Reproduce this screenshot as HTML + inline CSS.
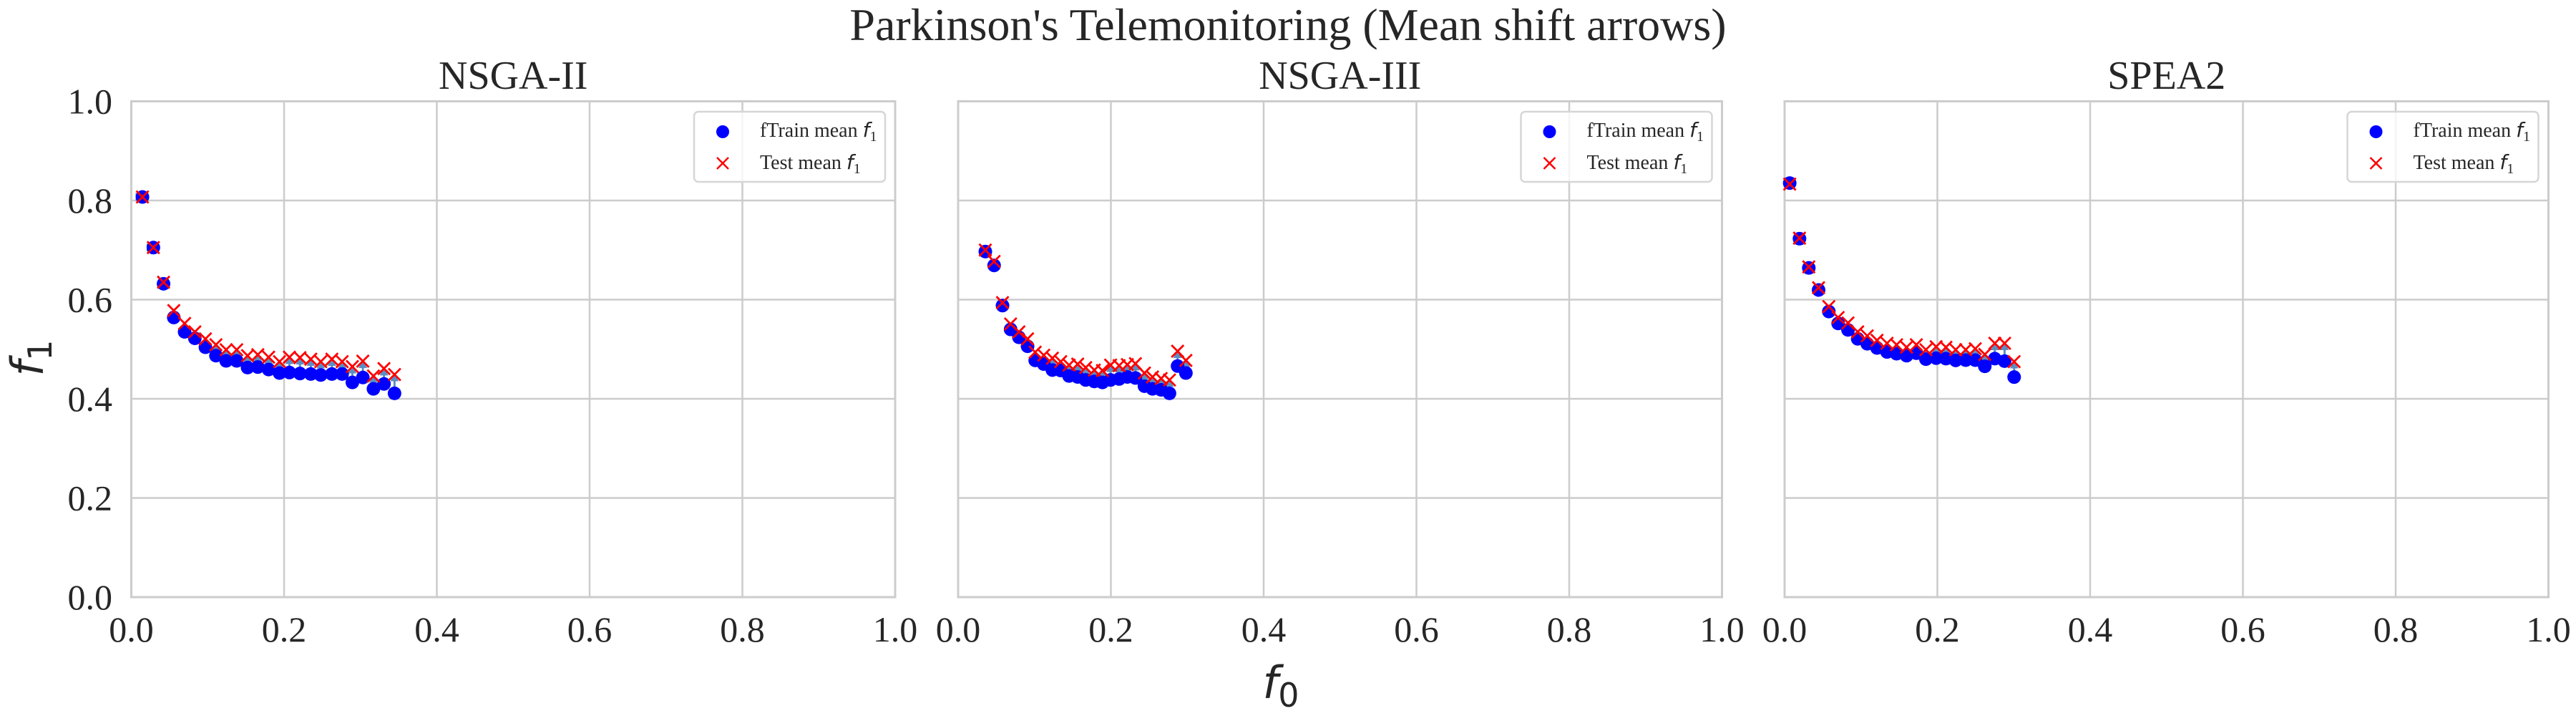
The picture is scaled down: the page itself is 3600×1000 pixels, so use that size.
<!DOCTYPE html>
<html><head><meta charset="utf-8"><style>
html,body{margin:0;padding:0;background:#fff;}
svg{display:block;}
text{font-family:"Liberation Serif",serif;fill:#262626;}
.math{font-family:"DejaVu Sans",sans-serif;font-style:italic;}
</style></head><body>
<svg id="fig" width="3600" height="1000" viewBox="0 0 3600 1000" xmlns="http://www.w3.org/2000/svg">
<defs>
<marker id="ah" viewBox="0 0 10 10" refX="8" refY="5" markerWidth="4" markerHeight="4" orient="auto"><path d="M0,0 L10,5 L0,10 z" fill="#5b8fc4"/></marker>
</defs>
<text x="1800" y="56" font-size="64" text-anchor="middle">Parkinson's Telemonitoring (Mean shift arrows)</text>
<g id="panels"></g>
<text x="1790" y="975" font-size="62" class="math" text-anchor="middle">f<tspan font-style="normal" font-size="46" dy="12">0</tspan></text>
<text transform="translate(60,500) rotate(-90)" font-size="62" class="math" text-anchor="middle">f<tspan font-style="normal" font-size="46" dy="12">1</tspan></text>
</svg>
<script>
const panelTitles = ["NSGA-II", "NSGA-III", "SPEA2"];
const ticks = [0.0, 0.2, 0.4, 0.6, 0.8, 1.0];
const tickLabels = ["0.0", "0.2", "0.4", "0.6", "0.8", "1.0"];

const nsga2X = [0.0146,0.0289,0.0422,0.0556,0.0698,0.0832,0.0970,0.1108,0.1242,0.1380,0.1522,0.1656,0.1798,0.1940,0.2070,0.2208,0.2350,0.2480,0.2626,0.2760,0.2894,0.3031,0.3170,0.3308,0.3446];
const nsga2Train = [0.807,0.705,0.632,0.564,0.535,0.522,0.504,0.487,0.4765,0.4765,0.463,0.464,0.459,0.452,0.453,0.451,0.450,0.448,0.450,0.450,0.433,0.443,0.420,0.430,0.411];
const nsga2Test = [0.807,0.705,0.635,0.578,0.552,0.535,0.521,0.509,0.499,0.499,0.487,0.489,0.484,0.475,0.484,0.483,0.480,0.475,0.480,0.475,0.465,0.476,0.446,0.461,0.449];

const nsga3X = [0.0356,0.0471,0.0581,0.0687,0.0796,0.0909,0.1009,0.1121,0.1234,0.1343,0.1452,0.1565,0.1670,0.1783,0.1889,0.1996,0.2108,0.2215,0.2321,0.2439,0.2545,0.2658,0.2767,0.2873,0.2982];
const nsga3Train = [0.697,0.669,0.588,0.540,0.524,0.506,0.4775,0.470,0.458,0.457,0.446,0.444,0.438,0.435,0.433,0.438,0.440,0.444,0.442,0.4255,0.420,0.418,0.411,0.466,0.452];
const nsga3Test = [0.700,0.677,0.594,0.551,0.535,0.521,0.494,0.488,0.482,0.475,0.468,0.470,0.463,0.458,0.457,0.468,0.467,0.469,0.471,0.452,0.444,0.441,0.438,0.496,0.4775];

const speaX = [0.0067,0.0195,0.0317,0.0445,0.0579,0.0701,0.0830,0.0957,0.1082,0.1210,0.1341,0.1466,0.1597,0.1725,0.1850,0.1984,0.2112,0.2240,0.2371,0.2496,0.2621,0.2752,0.2880,0.3005];
const speaTrain = [0.835,0.723,0.664,0.6195,0.576,0.552,0.539,0.521,0.511,0.5025,0.4945,0.491,0.487,0.492,0.480,0.482,0.481,0.4775,0.478,0.478,0.4655,0.481,0.476,0.4438];
const speaTest = [0.833,0.724,0.666,0.624,0.586,0.564,0.553,0.535,0.527,0.518,0.512,0.509,0.504,0.509,0.499,0.505,0.504,0.499,0.499,0.501,0.4895,0.512,0.512,0.475];

const seriesX = [nsga2X, nsga3X, speaX];
const seriesTrain = [nsga2Train, nsga3Train, speaTrain];
const seriesTest = [nsga2Test, nsga3Test, speaTest];

const NS = "http://www.w3.org/2000/svg";
const panelsG = document.getElementById("panels");
const lefts = [183.5, 1339, 2494];
const W = 1067.5, TOP = 141.5, BOT = 834;
function mk(tag, attrs, parent){const e=document.createElementNS(NS,tag);for(const k in attrs)e.setAttribute(k,attrs[k]);parent.appendChild(e);return e;}

panelTitles.forEach((title, p) => {
  const L = lefts[p];
  const xs = v => L + v * W;
  const ys = v => BOT - v * (BOT - TOP);
  const g = mk("g", {}, panelsG);
  
  
  // grid
  ticks.forEach((t, i) => {
    const gx = mk("line", {x1:xs(t),x2:xs(t),y1:TOP,y2:BOT,stroke:"#cccccc","stroke-width":2.5}, g);
    
    
    const gy = mk("line", {x1:L,x2:L+W,y1:ys(t),y2:ys(t),stroke:"#cccccc","stroke-width":2.5}, g);
    
    
    const xl = mk("text", {x:xs(t),y:896,"font-size":50,"text-anchor":"middle"}, g);
    xl.textContent = tickLabels[i];
    
    
    if (p === 0) {
      const yl = mk("text", {x:157,y:ys(t)+17,"font-size":50,"text-anchor":"end"}, g);
      yl.textContent = tickLabels[i];
      
      
    }
  });
  const frame = mk("rect", {x:L,y:TOP,width:W,height:BOT-TOP,fill:"none",stroke:"#cccccc","stroke-width":3}, g);
  
  
  const tt = mk("text", {x:L+W/2,y:124,"font-size":56,"text-anchor":"middle"}, g);
  tt.textContent = title;
  
  

  const X = seriesX[p], TR = seriesTrain[p], TE = seriesTest[p];
  // arrows
  X.forEach((x, i) => {
    const a = mk("line", {x1:xs(x),y1:ys(TR[i]),x2:xs(x),y2:ys(TE[i]),stroke:"#5b8fc4","stroke-width":3,"marker-end":"url(#ah)"}, g);
    
    
  });
  X.forEach((x, i) => {
    const c = mk("circle", {cx:xs(x),cy:ys(TR[i]),r:9.5,fill:"#0000ff"}, g);
    
    
  });
  X.forEach((x, i) => {
    const cx = xs(x), cy = ys(TE[i]), s = 8.5;
    const m = mk("path", {d:`M${cx-s},${cy-s}L${cx+s},${cy+s}M${cx-s},${cy+s}L${cx+s},${cy-s}`,stroke:"#ff0000","stroke-width":2.8,fill:"none"}, g);
    
    
  });
  // legend
  const R = L + W;
  const lg = mk("g", {}, g);
  
  
  mk("rect", {x:R-281,y:156,width:267,height:98,rx:6,fill:"#ffffff","fill-opacity":0.8,stroke:"#d6d6d6","stroke-width":2.5}, lg);
  const e1 = mk("g", {}, lg);
  
  
  mk("circle", {cx:R-241,cy:184,r:9,fill:"#0000ff"}, e1);
  const t1 = mk("text", {x:R-189,y:191,"font-size":28}, e1);
  t1.innerHTML = 'fTrain mean <tspan class="math">f</tspan><tspan font-size="20" dy="6">1</tspan>';
  const e2 = mk("g", {}, lg);
  
  
  const mx = R-241, my = 228, s = 8;
  mk("path", {d:`M${mx-s},${my-s}L${mx+s},${my+s}M${mx-s},${my+s}L${mx+s},${my-s}`,stroke:"#ff0000","stroke-width":2.5}, e2);
  const t2 = mk("text", {x:R-189,y:236,"font-size":28}, e2);
  t2.innerHTML = 'Test mean <tspan class="math">f</tspan><tspan font-size="20" dy="6">1</tspan>';
});
</script>
</body></html>
